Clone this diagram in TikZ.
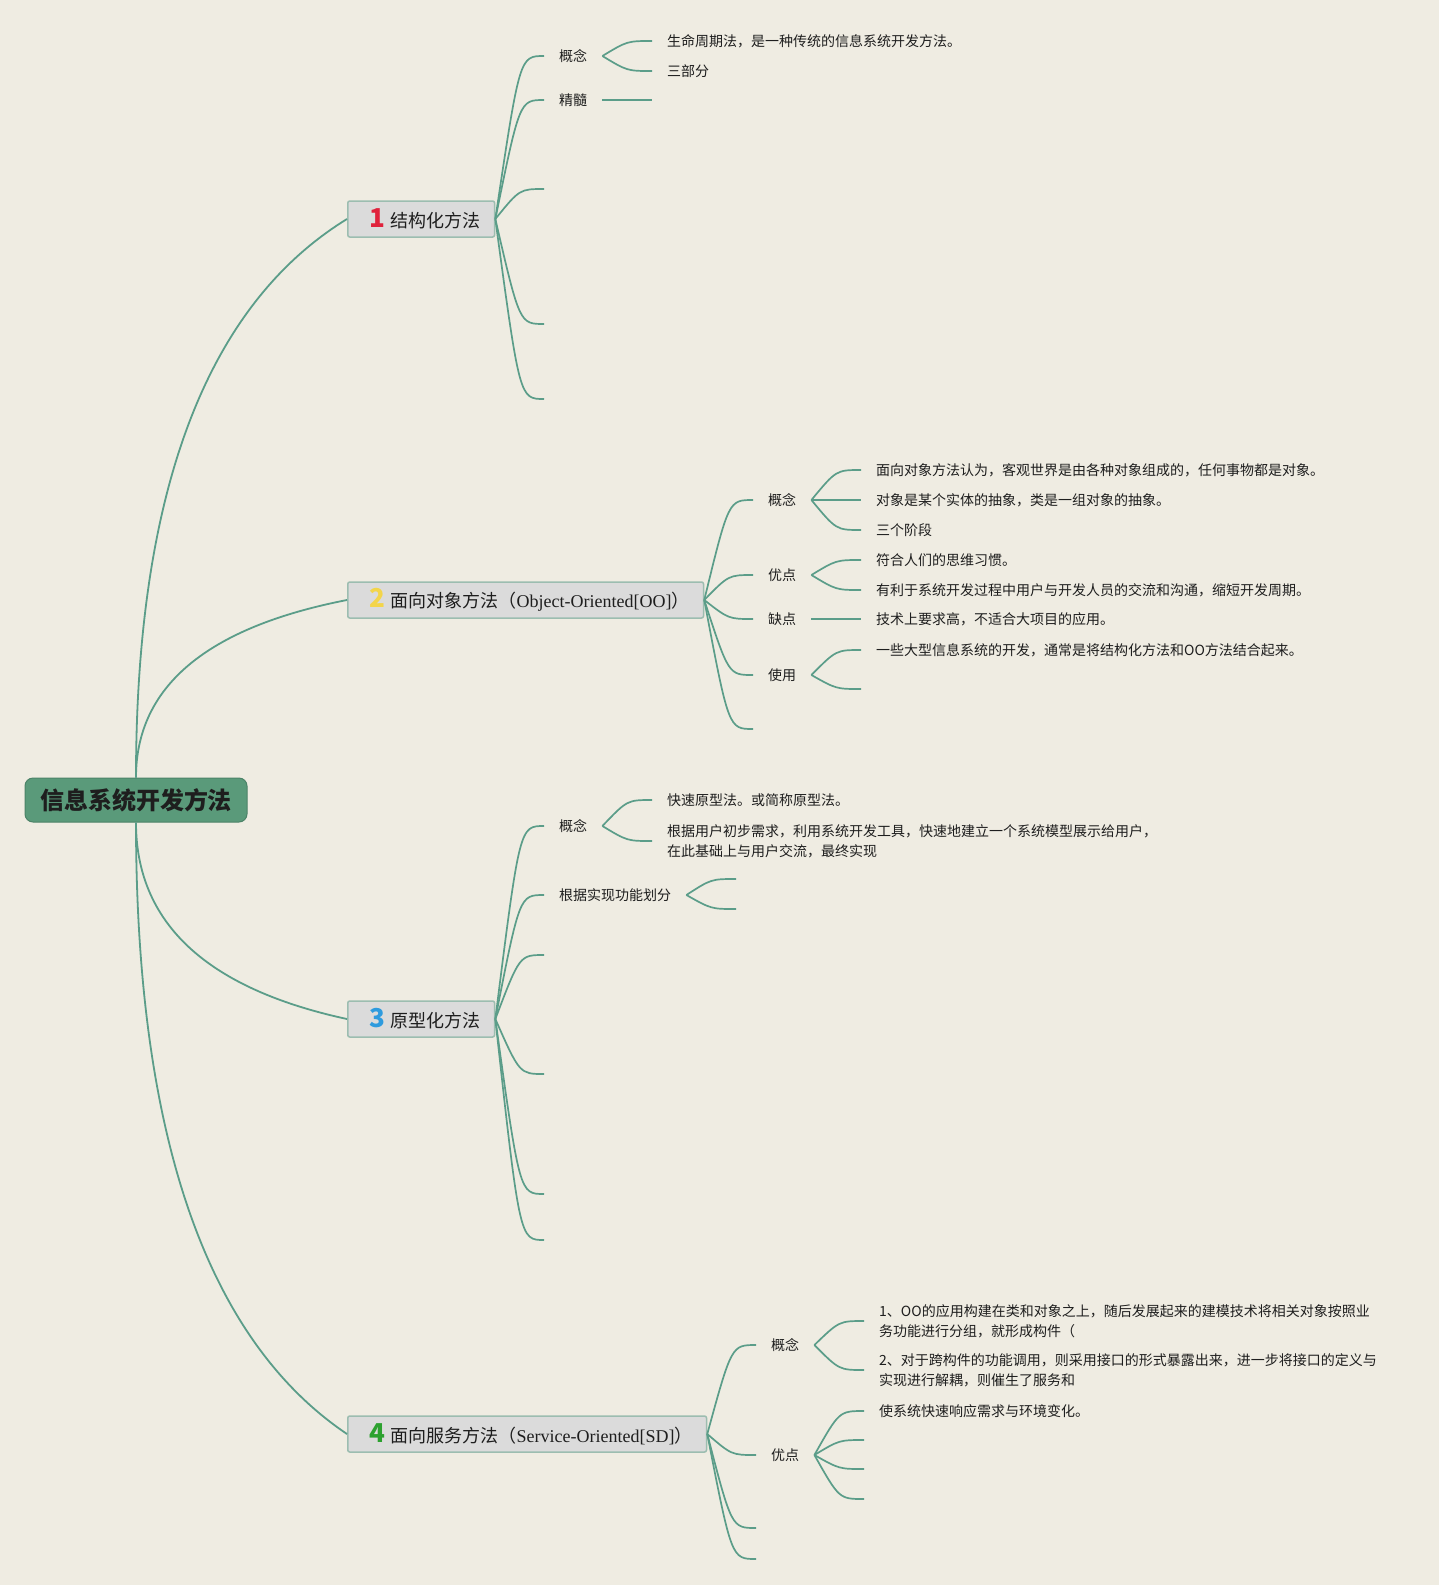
\documentclass[tikz,border=0pt]{standalone}
\usepackage{fontspec}
\setmainfont{Noto Sans CJK SC}
\newfontfamily\latfont{Liberation Serif}
\usetikzlibrary{calc,positioning}
\definecolor{MapPaper}{HTML}{EFECE2}
\definecolor{MapLine}{HTML}{5B9D89}
\definecolor{MapRoot}{HTML}{5A9A7A}
\definecolor{MapTopic}{HTML}{DBDBDB}
\definecolor{MapEdge}{HTML}{9CBDB0}
\definecolor{MapInk}{HTML}{1E1E1E}
\definecolor{NumRed}{HTML}{E0223C}
\definecolor{NumGold}{HTML}{F3D54A}
\definecolor{NumBlue}{HTML}{2E9BDE}
\definecolor{NumGreen}{HTML}{2CA12F}
\newcommand{\topicnum}[2]{\hspace{8pt}{\fontsize{26}{26}\selectfont\bfseries\color{#1}#2}\hspace{5pt}}
\newcommand{\lat}[1]{{\latfont #1}}

\begin{document}
\begin{tikzpicture}[
    x=1pt,
    y=-1pt,
    font=\fontsize{14}{20}\selectfont,
    text=MapInk,
    root/.style={fill=MapRoot, draw=MapRoot!85!black, line width=1pt, rounded corners=8pt, minimum width=222pt, minimum height=44pt, font=\fontsize{24}{24}\selectfont\bfseries},
    topic/.style={draw=MapEdge, fill=MapTopic, line width=1.5pt, rounded corners=2pt, minimum height=36pt, inner xsep=14pt, anchor=west, font=\fontsize{18}{20}\selectfont},
    sub/.style={anchor=west, inner xsep=15pt, inner ysep=2pt},
    leaf/.style={sub, align=left},
    brch/.style={draw=MapLine, line width=1.7pt, to path={let \p1=(\tikztostart), \p2=(\tikztotarget) in .. controls ({\x1+#1*(\x2-\x1)},\y2) .. (\tikztotarget)}},
    brch/.default=0.5,
    rootbr/.style={draw=MapLine, line width=1.8pt, to path={let \p1=(\tikztostart), \p2=(\tikztotarget) in .. controls (\x1,{\y1+0.511*(\y2-\y1)}) and ({\x2-0.667*(\x2-\x1)},{\y2+0.155*(\y1-\y2)}) .. (\tikztotarget)}}
  ]
    \fill[MapPaper] (0,0) rectangle (1439,1585);

    \node[root] (root) at (136,800) {信息系统开发方法};

    \node[topic] (t1) at (347,219) {\topicnum{NumRed}{1}结构化方法};
    \node[topic] (t2) at (347,600) {\topicnum{NumGold}{2}面向对象方法（\lat{Object-Oriented[OO]}）};
    \node[topic] (t3) at (347,1019) {\topicnum{NumBlue}{3}原型化方法};
    \node[topic] (t4) at (347,1434) {\topicnum{NumGreen}{4}面向服务方法（\lat{Service-Oriented[SD]}）};

    \node[sub] (t1a) at (544,56) {概念};
    \node[sub] (t1b) at (544,100) {精髓};
    \coordinate (t1c) at (544,189);
    \coordinate (t1d) at (544,324);
    \coordinate (t1e) at (544,399);
    \node[sub] (t1a1) at (652,41) {生命周期法，是一种传统的信息系统开发方法。};
    \node[sub] (t1a2) at (652,71) {三部分};
    \coordinate (t1b1) at (652,100);

    \node[sub] (t2a) at (753,500) {概念};
    \node[sub] (t2b) at (753,575) {优点};
    \node[sub] (t2c) at (753,619) {缺点};
    \node[sub] (t2d) at (753,675) {使用};
    \coordinate (t2e) at (753,729);
    \node[sub] (t2a1) at (861,470) {面向对象方法认为，客观世界是由各种对象组成的，任何事物都是对象。};
    \node[sub] (t2a2) at (861,500) {对象是某个实体的抽象，类是一组对象的抽象。};
    \node[sub] (t2a3) at (861,530) {三个阶段};
    \node[sub] (t2b1) at (861,560) {符合人们的思维习惯。};
    \node[sub] (t2b2) at (861,590) {有利于系统开发过程中用户与开发人员的交流和沟通，缩短开发周期。};
    \node[sub] (t2c1) at (861,619) {技术上要求高，不适合大项目的应用。};
    \node[sub] (t2d1) at (861,650) {一些大型信息系统的开发，通常是将结构化方法和OO方法结合起来。};
    \coordinate (t2d2) at (861,689);

    \node[sub] (t3a) at (544,826) {概念};
    \node[sub] (t3b) at (544,895) {根据实现功能划分};
    \coordinate (t3c) at (544,955);
    \coordinate (t3d) at (544,1074);
    \coordinate (t3e) at (544,1194);
    \coordinate (t3f) at (544,1240);
    \node[sub] (t3a1) at (652,800) {快速原型法。或简称原型法。};
    \node[leaf] (t3a2) at (652,841) {根据用户初步需求，利用系统开发工具，快速地建立一个系统模型展示给用户，\\在此基础上与用户交流，最终实现};
    \coordinate (t3b1) at (736,879);
    \coordinate (t3b2) at (736,909);

    \node[sub] (t4a) at (756,1345) {概念};
    \node[sub] (t4b) at (756,1455) {优点};
    \coordinate (t4c) at (756,1528);
    \coordinate (t4d) at (756,1559);
    \node[leaf] (t4a1) at (864,1321) {1、OO的应用构建在类和对象之上，随后发展起来的建模技术将相关对象按照业\\务功能进行分组，就形成构件（};
    \node[leaf] (t4a2) at (864,1370) {2、对于跨构件的功能调用，则采用接口的形式暴露出来，进一步将接口的定义与\\实现进行解耦，则催生了服务和};
    \node[sub] (t4b1) at (864,1411) {使系统快速响应需求与环境变化。};
    \coordinate (t4b2) at (864,1440);
    \coordinate (t4b3) at (864,1469);
    \coordinate (t4b4) at (864,1499);

    \draw[rootbr] (root.north) to (t1.west);
    \draw[rootbr] (root.north) to (t2.west);
    \draw[rootbr] (root.south) to (t3.west);
    \draw[rootbr] (root.south) to (t4.west);

    \foreach \c in {t1a.west,t1b.west,t1c,t1d,t1e} \draw[brch] (t1.east) to (\c);
    \foreach \c in {t1a1.west,t1a2.west} \draw[brch] (t1a.east) to (\c);
    \draw[brch] (t1b.east) to (t1b1);

    \foreach \c in {t2a.west,t2b.west,t2c.west,t2d.west,t2e} \draw[brch] (t2.east) to (\c);
    \foreach \c in {t2a1.west,t2a2.west,t2a3.west} \draw[brch] (t2a.east) to (\c);
    \foreach \c in {t2b1.west,t2b2.west} \draw[brch] (t2b.east) to (\c);
    \draw[brch] (t2c.east) to (t2c1.west);
    \foreach \c in {t2d1.west,t2d2} \draw[brch] (t2d.east) to (\c);

    \foreach \c in {t3a.west,t3b.west,t3c,t3d,t3e,t3f} \draw[brch] (t3.east) to (\c);
    \foreach \c in {t3a1.west,t3a2.west} \draw[brch] (t3a.east) to (\c);
    \foreach \c in {t3b1,t3b2} \draw[brch] (t3b.east) to (\c);

    \foreach \c in {t4a.west,t4b.west,t4c,t4d} \draw[brch] (t4.east) to (\c);
    \foreach \c in {t4a1.west,t4a2.west} \draw[brch] (t4a.east) to (\c);
    \foreach \c in {t4b1.west,t4b2,t4b3,t4b4} \draw[brch] (t4b.east) to (\c);
  \end{tikzpicture}
\end{document}
